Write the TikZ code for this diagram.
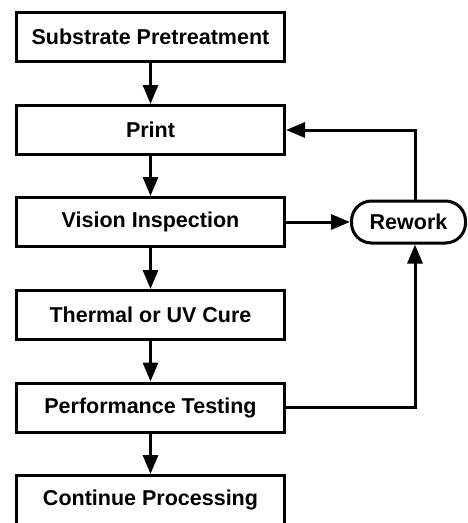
\documentclass[tikz,border=0pt]{standalone}
\usepackage{fontspec}
\setmainfont{Liberation Sans}
\usetikzlibrary{arrows.meta}
\begin{document}
\begin{tikzpicture}[x=1pt,y=1pt,
  stepbox/.style={draw, line width=3pt, minimum width=268pt, minimum height=49pt,
    inner sep=0pt, font=\fontsize{21.5}{24}\selectfont\bfseries},
  reworkbox/.style={draw, line width=3pt, minimum width=114pt, minimum height=42pt,
    rounded corners=20pt, inner sep=0pt, font=\fontsize{21.5}{24}\selectfont\bfseries},
  flow/.style={line width=3pt, -{Triangle[length=19pt,width=15pt]}}]
  \useasboundingbox (0,0) rectangle (468,-523);
  % main process column
  \node[stepbox] (pre)  at (150.5,-37)  {Substrate Pretreatment};
  \node[stepbox] (print) at (150.5,-130) {Print};
  \node[stepbox] (vis)  at (150.5,-222) {Vision Inspection};
  \node[stepbox] (cure) at (150.5,-315) {Thermal or UV Cure};
  \node[stepbox] (perf) at (150.5,-407.5) {Performance Testing};
  \node[stepbox] (cont) at (150.5,-500) {Continue Processing};
  % rework loop
  \node[reworkbox] (rw) at (408.5,-222) {Rework};
  \coordinate (top) at (415,-130);
  \coordinate (bot) at (415,-407.5);

  \draw[flow] (pre) -- (print);
  \draw[flow] (print) -- (vis);
  \draw[flow] (vis) -- (cure);
  \draw[flow] (cure) -- (perf);
  \draw[flow] (perf) -- (cont);
  \draw[flow] (vis.east) -- (rw.west);
  \draw[flow] (rw.north -| top) -- (top) -- (print.east);
  \draw[flow] (perf.east) -- (bot) -- (rw.south -| bot);
\end{tikzpicture}
\end{document}
